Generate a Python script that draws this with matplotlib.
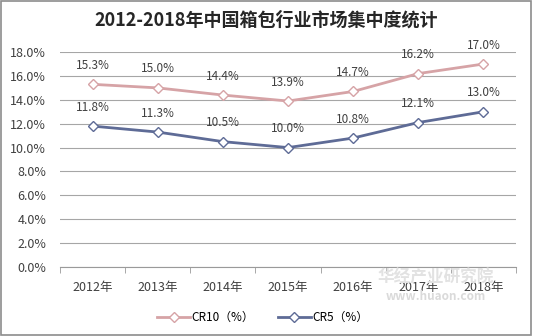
import matplotlib.pyplot as plt
import numpy as np

plt.rcParams['font.family'] = ['Noto Sans CJK SC', 'DejaVu Sans']

years = ['2012年', '2013年', '2014年', '2015年', '2016年', '2017年', '2018年']
cr10 = [15.3, 15.0, 14.4, 13.9, 14.7, 16.2, 17.0]
cr5 = [11.8, 11.3, 10.5, 10.0, 10.8, 12.1, 13.0]

c10 = '#D6A3A6'
c5 = '#5E6B96'

fig = plt.figure(figsize=(5.33, 3.36), dpi=100)
ax = fig.add_axes([0.1126, 0.2054, 0.8555, 0.6396])
x = np.arange(len(years))

ax.plot(x, cr10, color=c10, lw=2.0, marker='D', ms=5.5, mfc='white', mec=c10, mew=1.0,
        label='CR10（%）', zorder=3)
ax.plot(x, cr5, color=c5, lw=2.0, marker='D', ms=5.5, mfc='white', mec=c5, mew=1.0,
        label='CR5（%）', zorder=3)

for xi, v in zip(x, cr10):
    ax.annotate(f'{v:.1f}%', (xi, v), xytext=(0, 9), textcoords='offset points',
                ha='center', va='bottom', fontsize=8.5, color='#404040')
for xi, v in zip(x, cr5):
    ax.annotate(f'{v:.1f}%', (xi, v), xytext=(0, 9), textcoords='offset points',
                ha='center', va='bottom', fontsize=8.5, color='#404040')

ax.set_ylim(0, 18)
ax.set_yticks(np.arange(0, 18.1, 2))
ax.set_yticklabels([f'{t:.1f}%' for t in np.arange(0, 18.1, 2)], fontsize=9, color='#404040')
ax.set_xlim(-0.5, len(years) - 0.5)
ax.set_xticks(x)
ax.set_xticklabels(years, fontsize=9, color='#404040')
ax.set_xticks(np.arange(-0.5, len(years)), minor=True)
ax.tick_params(axis='x', which='major', length=0, pad=10)
ax.tick_params(axis='x', which='minor', length=4, color='#9A9A9A', direction='out')
ax.tick_params(axis='y', length=0, pad=10)
ax.grid(axis='y', color='#A6A6A6', lw=0.8)
ax.set_axisbelow(True)
for s in ['top', 'right', 'left']:
    ax.spines[s].set_visible(False)
ax.spines['bottom'].set_color('#9A9A9A')

fig.text(0.5, 0.94, '2012-2018年中国箱包行业市场集中度统计', ha='center', va='center',
         fontsize=13, fontweight='bold', color='#262626')

fig.legend(loc='center', bbox_to_anchor=(0.493, 0.054), ncol=2, frameon=False,
           fontsize=8.5, handlelength=2.8, columnspacing=2.0, handletextpad=0.1)

# 水印
fig.text(0.818, 0.173, '华经产业研究院', ha='center', va='center', fontsize=12,
         color='#E2E2E2', fontweight='bold', zorder=0)
fig.text(0.818, 0.119, 'www.huaon.com', ha='center', va='center', fontsize=8.5,
         color='#DADADA', fontweight='bold', zorder=0)

border = plt.Rectangle((0.002, 0.003), 0.995, 0.994, transform=fig.transFigure,
                       fill=False, edgecolor='#8C8C8C', lw=1.2)
fig.patches.append(border)

fig.savefig('out.png', dpi=100)
